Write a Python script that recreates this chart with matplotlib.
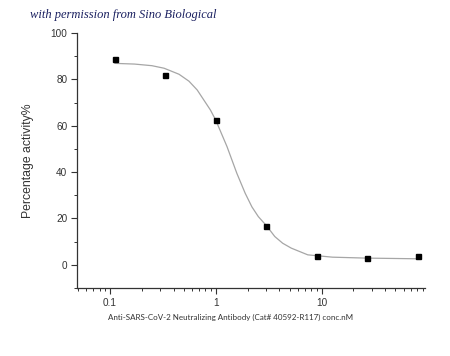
import numpy as np
import matplotlib.pyplot as plt
from matplotlib.ticker import MultipleLocator, LogLocator, NullFormatter, FixedFormatter, FixedLocator

# concentration (nM) and measured activity
conc = [0.111, 0.333, 1.0, 3.0, 9.0, 27.0, 81.0]
activity = [88.8, 81.9, 62.4, 16.8, 3.9, 3.0, 3.6]

# fitted curve
fit_x = [0.112, 0.171, 0.25, 0.326, 0.451, 0.56, 0.670, 0.892, 1.0, 1.28,
         1.585, 1.90, 2.2, 2.53, 3.03, 3.62, 4.3, 5.18, 7.42, 12.7, 26.1, 81.0]
fit_y = [86.9, 86.6, 85.9, 84.8, 82.2, 79.2, 75.4, 66.8, 62.5, 51.0,
         39.5, 30.9, 25.0, 20.8, 16.8, 12.2, 9.3, 7.2, 4.3, 3.3, 2.9, 2.6]

x_ticks = [0.1, 1, 10]
x_ticklabels = ["0.1", "1", "10"]

fig = plt.figure(figsize=(4.5, 3.56), dpi=100)
ax = fig.add_axes([77 / 450, 1 - 288 / 356, 348 / 450, 255 / 356])

ax.plot(fit_x, fit_y, color="#a6a6a6", lw=0.9, zorder=2)
ax.plot(conc, activity, ls="none", marker="s", ms=3.6, color="black", zorder=3)

ax.set_xscale("log")
ax.set_xlim(0.049, 95)
ax.set_ylim(-10, 100)

ax.xaxis.set_major_locator(FixedLocator(x_ticks))
ax.xaxis.set_major_formatter(FixedFormatter(x_ticklabels))
ax.xaxis.set_minor_locator(LogLocator(base=10, subs=np.arange(2, 10)))
ax.xaxis.set_minor_formatter(NullFormatter())
ax.yaxis.set_major_locator(FixedLocator([0, 20, 40, 60, 80, 100]))
ax.yaxis.set_minor_locator(MultipleLocator(10))

for s in ["top", "right"]:
    ax.spines[s].set_visible(False)
for s in ["left", "bottom"]:
    ax.spines[s].set_color("#333333")
    ax.spines[s].set_linewidth(0.9)

ax.tick_params(which="major", length=4, width=0.8, color="#333333",
               labelsize=7.2, labelcolor="#333333", pad=3)
ax.tick_params(which="minor", length=2.5, width=0.7, color="#333333")
for lab in ax.get_xticklabels() + ax.get_yticklabels():
    lab.set_family("Liberation Sans")

ax.set_ylabel("Percentage activity%", fontsize=8.8, family="Liberation Sans",
              color="#333333")
ax.yaxis.set_label_coords(-0.125, 0.5)

fig.text(231 / 450, 1 - 317 / 356,
         "Anti-SARS-CoV-2 Neutralizing Antibody (Cat# 40592-R117) conc.nM",
         ha="center", va="center", fontsize=5.8, family="Lato", color="#333333")

fig.text(30 / 450, 1 - 15 / 356, "with permission from Sino Biological",
         ha="left", va="center", fontsize=9, family="Liberation Serif",
         style="italic", color="#1a2060")

fig.savefig("out.png", dpi=100)
